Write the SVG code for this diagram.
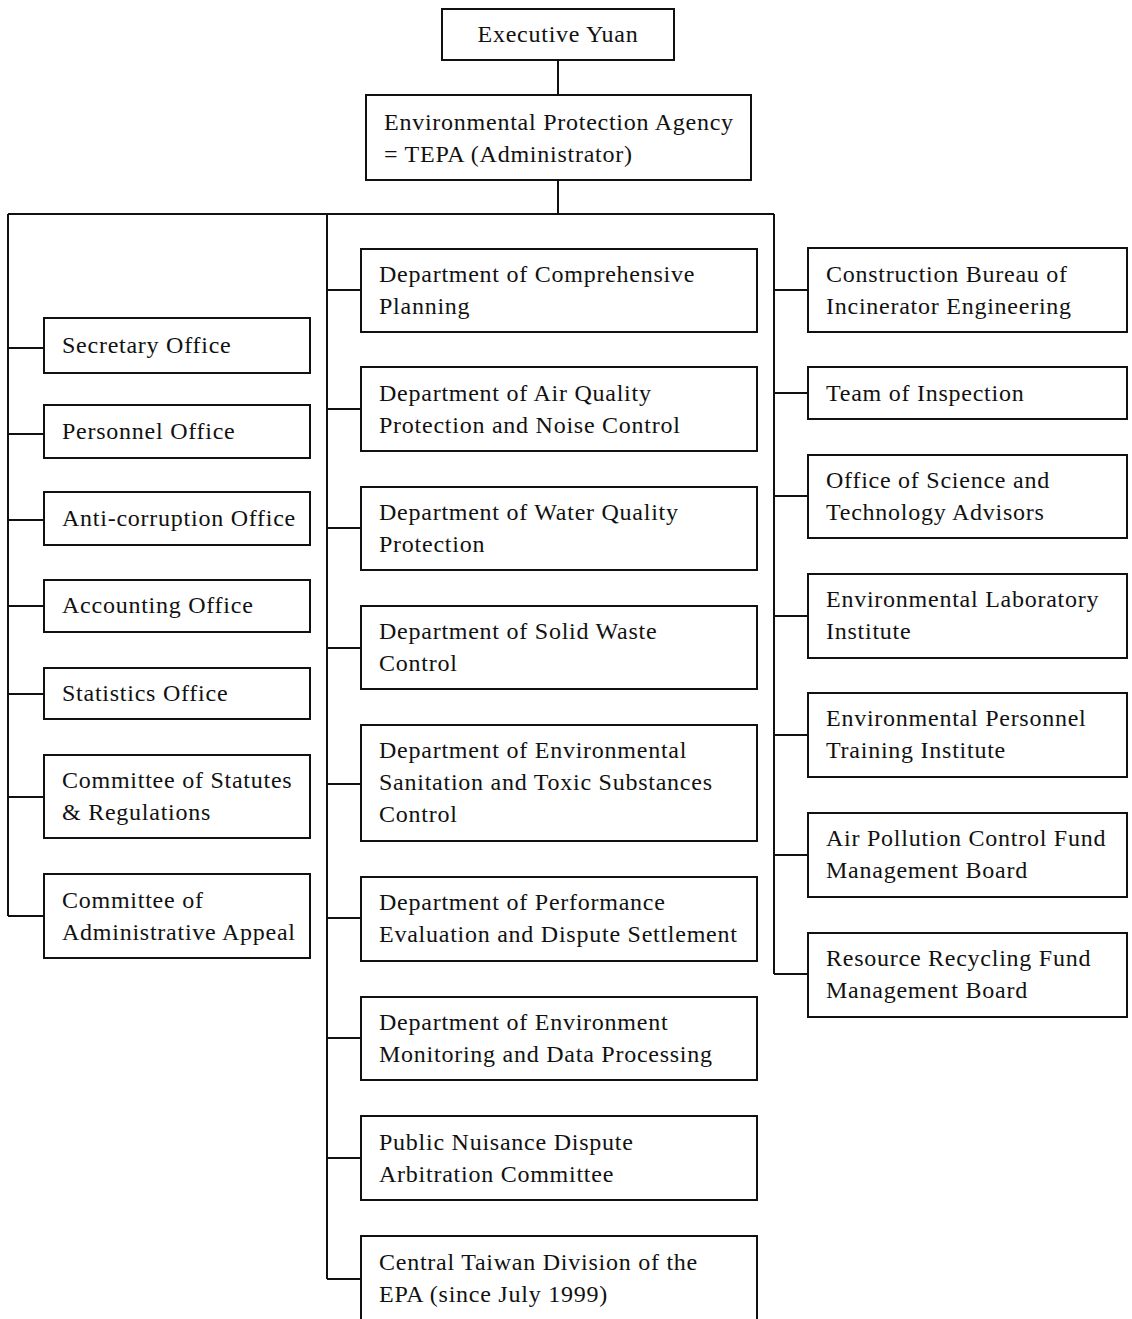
<svg xmlns="http://www.w3.org/2000/svg" width="1132" height="1319" viewBox="0 0 1132 1319">
<style>
.b{fill:#fff;stroke:#111;stroke-width:2}
.t{font-family:"Liberation Serif","Times New Roman",serif;font-size:24px;fill:#111;letter-spacing:0.75px}
.c{fill:none;stroke:#111;stroke-width:2}
</style>
<rect width="1132" height="1319" fill="#fff"/>
<g id="connectors">
<path class="c" d="M558 60V95M558 180V214M8 214H774M8 214V916M327 214V1279M774 214V974"/>
<path class="c" d="M8 348H44M8 434H44M8 520H44M8 606H44M8 694H44M8 797H44M8 916H44"/>
<path class="c" d="M327 290H361M327 409H361M327 528H361M327 648H361M327 784H361M327 918H361M327 1038H361M327 1158H361M327 1279H361"/>
<path class="c" d="M774 290H808M774 393H808M774 496H808M774 616H808M774 735H808M774 855H808M774 974H808"/>
</g>
<g id="executive-yuan"><rect class="b" x="442" y="9" width="232" height="51"/><text class="t" x="558" y="42" text-anchor="middle">Executive Yuan</text></g>
<g id="epa"><rect class="b" x="366" y="95" width="385" height="85"/><text class="t" x="384" y="130">Environmental Protection Agency</text><text class="t" x="384" y="162">= TEPA (Administrator)</text></g>

<g id="secretary"><rect class="b" x="44" y="318" width="266" height="55"/><text class="t" x="62" y="353">Secretary Office</text></g>
<g id="personnel"><rect class="b" x="44" y="405" width="266" height="53"/><text class="t" x="62" y="439">Personnel Office</text></g>
<g id="anticorruption"><rect class="b" x="44" y="492" width="266" height="53"/><text class="t" x="62" y="526">Anti-corruption Office</text></g>
<g id="accounting"><rect class="b" x="44" y="580" width="266" height="52"/><text class="t" x="62" y="613">Accounting Office</text></g>
<g id="statistics"><rect class="b" x="44" y="668" width="266" height="51"/><text class="t" x="62" y="701">Statistics Office</text></g>
<g id="statutes"><rect class="b" x="44" y="755" width="266" height="83"/><text class="t" x="62" y="788">Committee of Statutes</text><text class="t" x="62" y="820">&amp; Regulations</text></g>
<g id="appeal"><rect class="b" x="44" y="874" width="266" height="84"/><text class="t" x="62" y="908">Committee of</text><text class="t" x="62" y="940">Administrative Appeal</text></g>

<g id="comprehensive"><rect class="b" x="361" y="249" width="396" height="83"/><text class="t" x="379" y="282">Department of Comprehensive</text><text class="t" x="379" y="314">Planning</text></g>
<g id="air-quality"><rect class="b" x="361" y="367" width="396" height="84"/><text class="t" x="379" y="401">Department of Air Quality</text><text class="t" x="379" y="433">Protection and Noise Control</text></g>
<g id="water-quality"><rect class="b" x="361" y="487" width="396" height="83"/><text class="t" x="379" y="520">Department of Water Quality</text><text class="t" x="379" y="552">Protection</text></g>
<g id="solid-waste"><rect class="b" x="361" y="606" width="396" height="83"/><text class="t" x="379" y="639">Department of Solid Waste</text><text class="t" x="379" y="671">Control</text></g>
<g id="sanitation"><rect class="b" x="361" y="725" width="396" height="116"/><text class="t" x="379" y="758">Department of Environmental</text><text class="t" x="379" y="790">Sanitation and Toxic Substances</text><text class="t" x="379" y="822">Control</text></g>
<g id="performance"><rect class="b" x="361" y="877" width="396" height="84"/><text class="t" x="379" y="910">Department of Performance</text><text class="t" x="379" y="942">Evaluation and Dispute Settlement</text></g>
<g id="monitoring"><rect class="b" x="361" y="997" width="396" height="83"/><text class="t" x="379" y="1030">Department of Environment</text><text class="t" x="379" y="1062">Monitoring and Data Processing</text></g>
<g id="nuisance"><rect class="b" x="361" y="1116" width="396" height="84"/><text class="t" x="379" y="1150">Public Nuisance Dispute</text><text class="t" x="379" y="1182">Arbitration Committee</text></g>
<g id="central-taiwan"><path class="b" d="M361 1319V1236H757V1319"/><text class="t" x="379" y="1270">Central Taiwan Division of the</text><text class="t" x="379" y="1302">EPA (since July 1999)</text></g>

<g id="incinerator"><rect class="b" x="808" y="248" width="319" height="84"/><text class="t" x="826" y="282">Construction Bureau of</text><text class="t" x="826" y="314">Incinerator Engineering</text></g>
<g id="inspection"><rect class="b" x="808" y="367" width="319" height="52"/><text class="t" x="826" y="401">Team of Inspection</text></g>
<g id="science"><rect class="b" x="808" y="455" width="319" height="83"/><text class="t" x="826" y="488">Office of Science and</text><text class="t" x="826" y="520">Technology Advisors</text></g>
<g id="laboratory"><rect class="b" x="808" y="574" width="319" height="84"/><text class="t" x="826" y="607">Environmental Laboratory</text><text class="t" x="826" y="639">Institute</text></g>
<g id="training"><rect class="b" x="808" y="693" width="319" height="84"/><text class="t" x="826" y="726">Environmental Personnel</text><text class="t" x="826" y="758">Training Institute</text></g>
<g id="air-fund"><rect class="b" x="808" y="813" width="319" height="84"/><text class="t" x="826" y="846">Air Pollution Control Fund</text><text class="t" x="826" y="878">Management Board</text></g>
<g id="recycling-fund"><rect class="b" x="808" y="933" width="319" height="84"/><text class="t" x="826" y="966">Resource Recycling Fund</text><text class="t" x="826" y="998">Management Board</text></g>
</svg>
